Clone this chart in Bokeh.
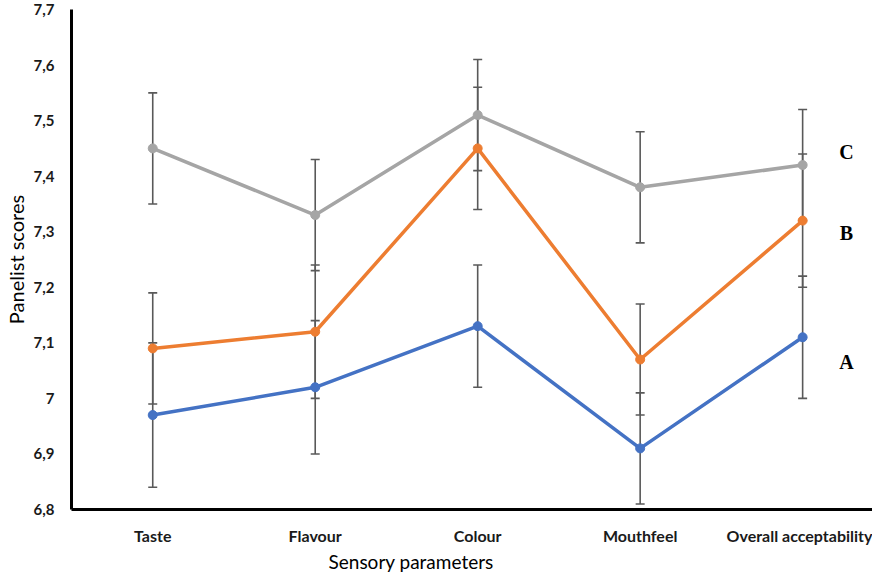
from bokeh.plotting import figure
from bokeh.models import ColumnDataSource, Whisker, TeeHead, Range1d, FixedTicker, CustomJSTickFormatter, Title
from bokeh.core.properties import value
from bokeh.embed import file_html
from bokeh.resources import INLINE

categories = ["Taste", "Flavour", "Colour", "Mouthfeel", "Overall acceptability"]
series_names = ["A", "B", "C"]
values_A = [6.97, 7.02, 7.13, 6.91, 7.11]
values_B = [7.09, 7.12, 7.45, 7.07, 7.32]
values_C = [7.45, 7.33, 7.51, 7.38, 7.42]
err_A = [0.13, 0.12, 0.11, 0.10, 0.11]
err_B = [0.10, 0.12, 0.11, 0.10, 0.12]
err_C = [0.10, 0.10, 0.10, 0.10, 0.10]
y_ticks = [6.8, 6.9, 7.0, 7.1, 7.2, 7.3, 7.4, 7.5, 7.6, 7.7]
letter_labels = ["A", "B", "C"]
letter_y = [7.065, 7.297, 7.443]

colors = ["#4472C4", "#ED7D31", "#A5A5A5"]

p = figure(width=872, height=572, output_backend="svg", toolbar_location=None,
           x_range=Range1d(-0.5, 4.43), y_range=Range1d(6.8, 7.7),
           min_border_left=67, min_border_right=0, min_border_top=9, min_border_bottom=0)
p.outline_line_color = None
p.grid.visible = False

xs = list(range(len(categories)))

for vals, errs, col in zip([values_A, values_B, values_C], [err_A, err_B, err_C], colors):
    src = ColumnDataSource(dict(x=xs, y=vals,
                                upper=[v + e for v, e in zip(vals, errs)],
                                lower=[v - e for v, e in zip(vals, errs)]))
    w = Whisker(source=src, base="x", upper="upper", lower="lower",
                line_color="#595959", line_width=1.6,
                upper_head=TeeHead(size=9, line_color="#595959", line_width=1.6),
                lower_head=TeeHead(size=9, line_color="#595959", line_width=1.6))
    p.add_layout(w)

for vals, col in zip([values_A, values_B, values_C], colors):
    src = ColumnDataSource(dict(x=xs, y=vals))
    p.line("x", "y", source=src, line_color=col, line_width=3.5)
    p.scatter("x", "y", source=src, size=9, fill_color=col, line_color=col)

lsrc = ColumnDataSource(dict(x=[4.27] * len(letter_labels), y=letter_y, t=letter_labels))
p.text("x", "y", text="t", source=lsrc, text_font=value("Liberation Serif"),
       text_font_style="bold", text_font_size="20px", text_align="center",
       text_baseline="middle", text_color="black")

# axes
p.xaxis.ticker = FixedTicker(ticks=xs)
p.xaxis.major_label_overrides = {i: c for i, c in enumerate(categories)}
p.yaxis.ticker = FixedTicker(ticks=y_ticks)
p.yaxis.formatter = CustomJSTickFormatter(code="""
const s = (Math.round(tick*10)/10).toString();
return s.replace('.', ',');
""")
for ax in (p.xaxis[0], p.yaxis[0]):
    ax.axis_line_width = 3
    ax.axis_line_color = "black"
    ax.major_tick_line_color = None
    ax.minor_tick_line_color = None
    ax.major_label_text_font = "Lato"
    ax.major_label_text_font_style = "bold"
    ax.major_label_text_color = "#1a1a1a"
p.xaxis.major_label_text_font_size = "16px"
p.yaxis.major_label_text_font_size = "15px"
p.xaxis.major_label_standoff = 10
p.yaxis.major_label_standoff = 11

p.yaxis.axis_label = "Panelist scores"
p.yaxis.axis_label_text_font = "Lato"
p.yaxis.axis_label_text_font_style = "normal"
p.yaxis.axis_label_text_font_size = "20px"
p.yaxis.axis_label_text_color = "black"
p.yaxis.axis_label_standoff = 3

p.add_layout(Title(text="Sensory parameters", align="left", offset=257,
                   text_font="Lato", text_font_style="normal", text_font_size="19px",
                   text_color="black", standoff=0, text_line_height=0.8), "below")

open("out.html", "w").write(file_html(p, INLINE))
